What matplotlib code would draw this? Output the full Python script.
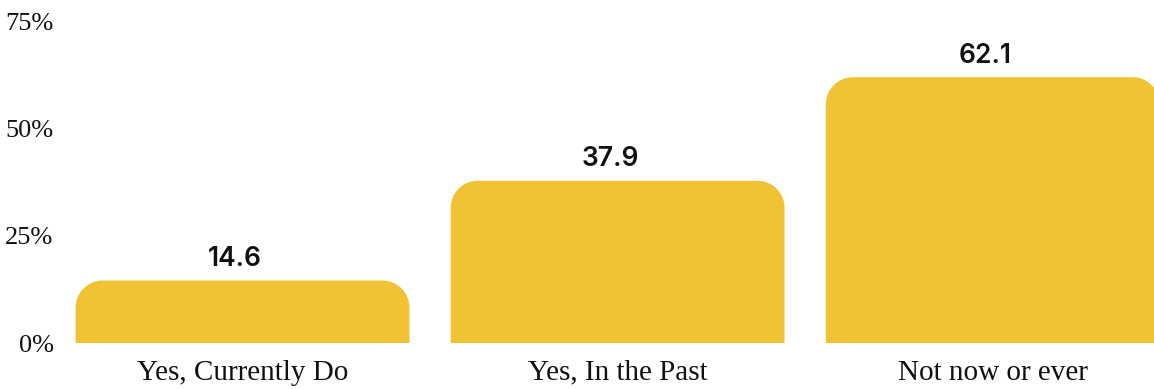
import numpy as np
import matplotlib.pyplot as plt
from matplotlib.path import Path
from matplotlib.patches import PathPatch

categories = ['Yes, Currently Do', 'Yes, In the Past', 'Not now or ever']
values = [14.6, 37.9, 62.1]
yticks = [0, 25, 50, 75]
ytick_labels = ['0%', '25%', '50%', '75%']

bar_color = '#F0C234'
bar_width = 0.89

fig = plt.figure(figsize=(11.54, 3.89), dpi=100)
ax = fig.add_axes([55/1154, 46/389, 1 - 55/1154, (343 - 22)/389])
ax.set_xlim(-0.5, 2.43)
ax.set_ylim(0, 75)

# corner radius in pixels, converted to data units for each axis
fig.canvas.draw()
bbox = ax.get_window_extent()
px_x = (2.43 + 0.5) / bbox.width
px_y = 75 / bbox.height
r = 27
rx, ry = r * px_x, r * px_y
k = 0.5523  # bezier constant for quarter circle


def rounded_top_bar(xc, w, h):
    x0, x1 = xc - w / 2, xc + w / 2
    verts = [
        (x0, 0), (x0, h - ry),
        (x0, h - ry + k * ry), (x0 + rx - k * rx, h), (x0 + rx, h),
        (x1 - rx, h),
        (x1 - rx + k * rx, h), (x1, h - ry + k * ry), (x1, h - ry),
        (x1, 0), (x0, 0),
    ]
    codes = [Path.MOVETO, Path.LINETO,
             Path.CURVE4, Path.CURVE4, Path.CURVE4,
             Path.LINETO,
             Path.CURVE4, Path.CURVE4, Path.CURVE4,
             Path.LINETO, Path.CLOSEPOLY]
    return Path(verts, codes)


x = np.arange(len(categories))
for xi, v in zip(x, values):
    ax.add_patch(PathPatch(rounded_top_bar(xi, bar_width, v),
                           facecolor=bar_color, edgecolor='none', clip_on=True))
    ax.text(xi - 0.02, v + 2.0, f'{v}', ha='center', va='bottom',
            fontsize=19, fontfamily='Inter', fontweight='semibold', color='#111111')

ax.set_xticks(x)
ax.set_xticklabels(categories, fontsize=21, fontfamily='Liberation Serif', color='#111111')
ax.set_yticks(yticks)
ax.set_yticklabels(ytick_labels, fontsize=19, fontfamily='Liberation Serif', color='#111111')
ax.tick_params(length=0)
ax.tick_params(axis='y', pad=1)
ax.tick_params(axis='x', pad=12)
for s in ax.spines.values():
    s.set_visible(False)

fig.savefig('out.png', dpi=100)
